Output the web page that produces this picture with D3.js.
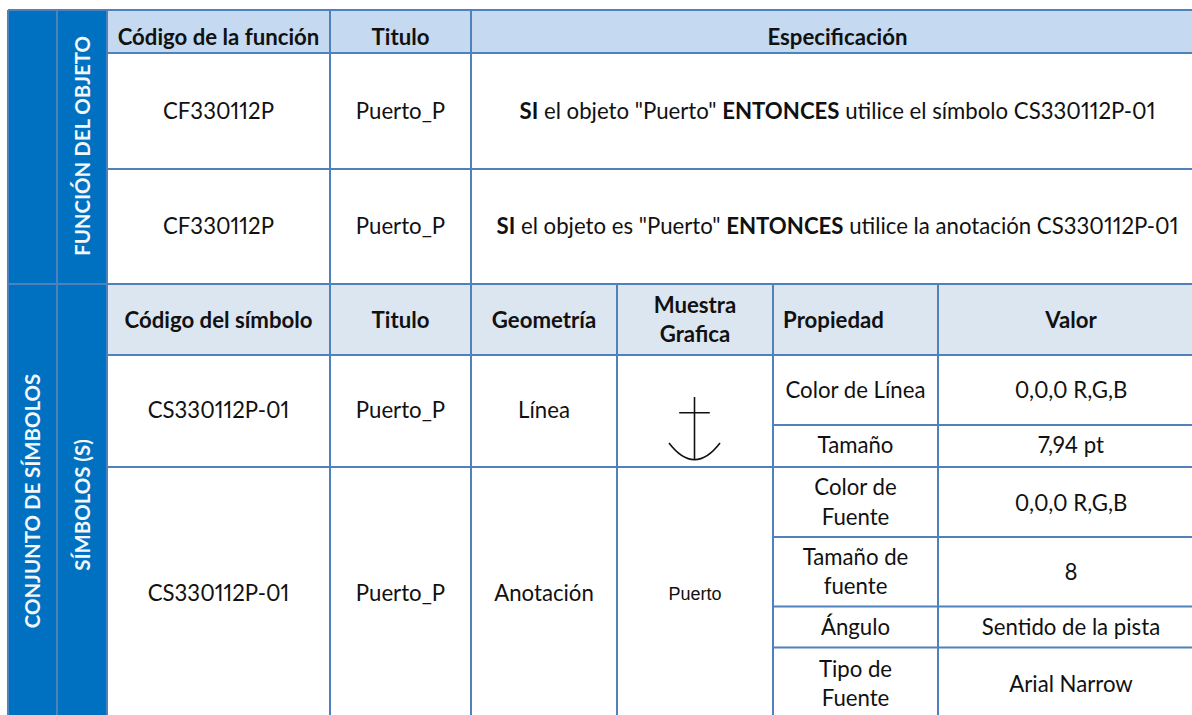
<!DOCTYPE html>
<html><head><meta charset="utf-8">
<script src="https://cdn.jsdelivr.net/npm/d3@7"></script>
<style>html,body{margin:0;padding:0;background:#fff;overflow:hidden}svg{display:block}text{font-family:Lato,"Open Sans",sans-serif;fill:#111;white-space:pre;font-feature-settings:"pnum" 1}</style>
</head><body>
<svg id="c" width="1192" height="715"></svg>
<script>
// Table content
const functionHeaders = ["Código de la función", "Titulo", "Especificación"];
const functionCodes = ["CF330112P", "CF330112P"];
const functionTitles = ["Puerto_P", "Puerto_P"];
const functionSpecs = [
  [["SI", 1], [" el objeto \"Puerto\" ", 0], ["ENTONCES", 1], [" utilice el símbolo CS330112P-01", 0]],
  [["SI", 1], [" el objeto es \"Puerto\" ", 0], ["ENTONCES", 1], [" utilice la anotación CS330112P-01", 0]]
];
const symbolHeaders = ["Código del símbolo", "Titulo", "Geometría", ["Muestra", "Grafica"], "Propiedad", "Valor"];
const symbolCodes = ["CS330112P-01", "CS330112P-01"];
const symbolTitles = ["Puerto_P", "Puerto_P"];
const symbolGeoms = ["Línea", "Anotación"];
const sampleText = "Puerto";
const properties = [["Color de Línea"], ["Tamaño"], ["Color de", "Fuente"], ["Tamaño de", "fuente"], ["Ángulo"], ["Tipo de", "Fuente"]];
const propertyValues = ["0,0,0 R,G,B", "7,94 pt", "0,0,0 R,G,B", "8", "Sentido de la pista", "Arial Narrow"];
const sideLabels = ["FUNCIÓN DEL OBJETO", "CONJUNTO DE SÍMBOLOS", "SÍMBOLOS (S)"];

// Layout (grid of the table)
const colKeys = ["side1", "side2", "code", "title", "geom", "sample", "prop", "value", "end"];
const X = d3.scaleOrdinal(colKeys, [8, 57, 107, 330, 471, 617, 773, 938, 1204]);
const rowKeys = ["top", "fHead", "f1", "f2", "sHead", "p1", "p2", "p3", "p4", "p5", "p6"];
const Y = d3.scaleOrdinal(rowKeys, [10, 53, 169, 284, 355, 425, 467, 537, 606.5, 647.5, 715]);
const LINE = "#4f81bd", BLUE = "#0070c0", HEAD1 = "#c5d9f1", HEAD2 = "#dce6f1";
const FS = 22.2;

const svg = d3.select("#c");
const fills = svg.append("g"), lines = svg.append("g"), texts = svg.append("g");

const fillCells = [["side1", "top", "code", "p6", BLUE], ["code", "top", "end", "fHead", HEAD1], ["code", "f2", "end", "sHead", HEAD2]];
fills.selectAll("rect").data(fillCells).join("rect")
  .attr("x", d => X(d[0])).attr("y", d => Y(d[1]))
  .attr("width", d => X(d[2]) - X(d[0])).attr("height", d => Y(d[3]) - Y(d[1]))
  .attr("fill", d => d[4]);

const hLines = [["side1", "top"], ["code", "fHead"], ["code", "f1"], ["side1", "f2"], ["code", "sHead"], ["prop", "p1"], ["code", "p2"], ["prop", "p3"], ["prop", "p4"], ["prop", "p5"]];
const vLines = [["side1", "top"], ["side2", "top"], ["code", "top"], ["title", "top"], ["geom", "top"], ["sample", "f2"], ["prop", "f2"], ["value", "f2"]];
lines.selectAll(".h").data(hLines).join("line").attr("class", "h")
  .attr("x1", d => X(d[0])).attr("x2", X("end")).attr("y1", d => Y(d[1])).attr("y2", d => Y(d[1]));
lines.selectAll(".v").data(vLines).join("line").attr("class", "v")
  .attr("x1", d => X(d[0])).attr("x2", d => X(d[0])).attr("y1", d => Y(d[1])).attr("y2", Y("p6"));
lines.selectAll("line").attr("stroke", LINE).attr("stroke-width", 2);

function label(t, cx, base, bold, size) {
  return texts.append("text").attr("x", cx).attr("y", base).attr("text-anchor", "middle")
    .attr("font-size", size || FS).attr("font-weight", bold ? 700 : 400).text(t);
}
const mid = (a, b) => (X(a) + X(b)) / 2;

// Function block
const fc = [["code", "title"], ["title", "geom"], ["geom", "end"]];
functionHeaders.forEach((t, i) => label(t, mid(...fc[i]), 45, true));
[119, 234].forEach((base, r) => {
  label(functionCodes[r], mid(...fc[0]), base);
  label(functionTitles[r], mid(...fc[1]), base);
  label("", mid(...fc[2]), base).selectAll("tspan").data(functionSpecs[r]).join("tspan")
    .attr("font-weight", d => d[1] ? 700 : 400).text(d => d[0]);
});

// Symbol block headers
const sc = [["code", "title"], ["title", "geom"], ["geom", "sample"], ["sample", "prop"], ["prop", "value"], ["value", "end"]];
symbolHeaders.forEach((t, i) => {
  if (Array.isArray(t)) t.forEach((s, j) => label(s, mid(...sc[i]), 313 + j * 29, true));
  else label(t, i === 4 ? X("prop") + 60.5 : mid(...sc[i]), 328, true);
});

// Symbol rows
[418, 601].forEach((b, i) => {
  label(symbolCodes[i], mid(...sc[0]), b);
  label(symbolTitles[i], mid(...sc[1]), b);
  label(symbolGeoms[i], mid(...sc[2]), b);
});
label(sampleText, mid(...sc[3]), 600, false, 18).style("font-family", "'Liberation Sans Narrow','Liberation Sans',sans-serif");

const propLineBases = [[398], [453], [495, 525], [565, 594], [635], [677, 706]];
const propValueBases = [398, 453, 511, 580, 635, 692];
properties.forEach((p, i) => {
  p.forEach((s, j) => label(s, mid(...sc[4]), propLineBases[i][j]));
  label(propertyValues[i], mid(...sc[5]), propValueBases[i]);
});

// Rotated side labels
const sidePos = [[90, 146], [40, 501], [90, 505]];
sideLabels.forEach((t, i) => {
  texts.append("text").attr("transform", `translate(${sidePos[i][0]},${sidePos[i][1]}) rotate(-90)`)
    .attr("text-anchor", "middle").attr("font-size", 20.4).attr("font-weight", 700)
    .style("fill", "#f2f7fb").text(t);
});

// Anchor symbol
const ax = d3.scaleLinear([-1, 1], [669, 720]);
const ay = d3.scaleLinear([0, 1], [397, 460]);
const p = d3.path();
p.moveTo(ax(0), ay(0)); p.lineTo(ax(0), ay(1));
p.moveTo(ax(-0.6), ay(0.25)); p.lineTo(ax(0.6), ay(0.25));
p.moveTo(ax(-1), ay(0.73)); p.quadraticCurveTo(ax(0), ay(1.26), ax(1), ay(0.73));
texts.append("path").attr("d", p.toString()).attr("fill", "none").attr("stroke", "#111").attr("stroke-width", 1.6);
</script>
</body></html>
